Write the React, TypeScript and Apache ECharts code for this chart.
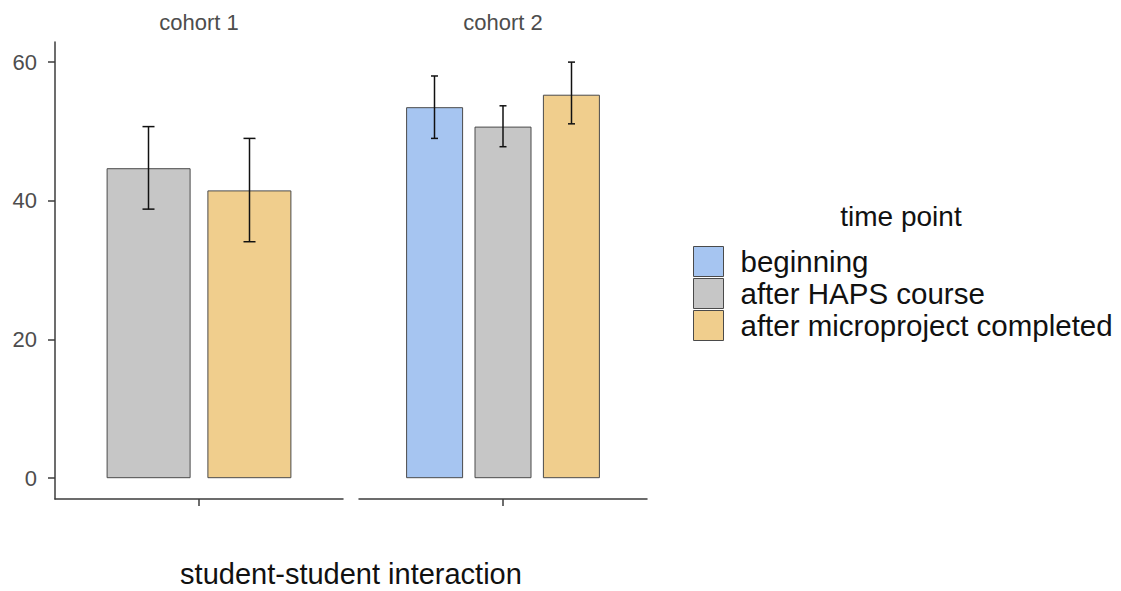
import React, { useEffect, useRef } from "react";
import * as echarts from "echarts";

// Facet panels and the single x category
const cohorts = ["cohort 1", "cohort 2"];
const category = ["student-student interaction"];
const timePoints = ["beginning", "after HAPS course", "after microproject completed"];
const colors = ["#A6C5F1", "#C6C6C6", "#F0CE8D"];
const yTicks = [0, 20, 40, 60];

// Cohort 1 (no "beginning" measurement)
const c1Points = ["after HAPS course", "after microproject completed"];
const c1Means = [44.7, 41.5];
const c1Low = [38.8, 34.1];
const c1High = [50.7, 49.0];

// Cohort 2
const c2Points = ["beginning", "after HAPS course", "after microproject completed"];
const c2Means = [53.5, 50.7, 55.3];
const c2Low = [49.0, 47.8, 51.1];
const c2High = [58.0, 53.7, 60.0];

const FONT = "'Liberation Sans', Arial, sans-serif";
const AXIS_COLOR = "#3d3d3d";
const Y_MIN = -3;
const Y_MAX = 62.9;

const colorOf = (name: string) => colors[timePoints.indexOf(name)];

function barSeries(points: string[], means: number[], gridIdx: number, barWidth: number) {
  return points.map((p) => ({
    type: "bar",
    name: p,
    xAxisIndex: gridIdx,
    yAxisIndex: gridIdx,
    barWidth,
    barGap: "20%",
    data: [means[points.indexOf(p)]],
    itemStyle: { color: colorOf(p), borderColor: "#4a4a4a", borderWidth: 1 },
  }));
}

function errorSeries(low: number[], high: number[], gridIdx: number, step: number, capHalf: number) {
  const n = low.length;
  return {
    type: "custom",
    xAxisIndex: gridIdx,
    yAxisIndex: gridIdx,
    encode: { x: 0, y: [1, 2] },
    data: low.map((l, i) => [0, l, high[i], i]),
    z: 10,
    renderItem: (_params: any, api: any) => {
      const slot = api.value(3);
      const lo = api.coord([0, api.value(1)]);
      const hi = api.coord([0, api.value(2)]);
      const x = lo[0] + (slot - (n - 1) / 2) * step;
      const style = { stroke: "#111", lineWidth: 1.5 };
      return {
        type: "group",
        children: [
          { type: "line", shape: { x1: x, y1: lo[1], x2: x, y2: hi[1] }, style },
          { type: "line", shape: { x1: x - capHalf, y1: lo[1], x2: x + capHalf, y2: lo[1] }, style },
          { type: "line", shape: { x1: x - capHalf, y1: hi[1], x2: x + capHalf, y2: hi[1] }, style },
        ],
      };
    },
  };
}

export default function App() {
  const ref = useRef<HTMLDivElement>(null);

  useEffect(() => {
    if (!ref.current) return;
    const chart = echarts.init(ref.current, undefined, { renderer: "svg" });

    const xAxisBase = {
      type: "category",
      data: category,
      axisLine: { show: true, onZero: false, lineStyle: { color: AXIS_COLOR, width: 1.5 } },
      axisTick: { show: true, alignWithLabel: true, length: 7, lineStyle: { color: AXIS_COLOR, width: 1.5 } },
      axisLabel: { show: false },
    };

    chart.setOption({
      animation: false,
      textStyle: { fontFamily: FONT },
      grid: [
        { left: 55, width: 288, top: 42, bottom: 92 },
        { left: 359, width: 288, top: 42, bottom: 92 },
      ],
      xAxis: [
        { ...xAxisBase, gridIndex: 0 },
        { ...xAxisBase, gridIndex: 1 },
      ],
      yAxis: [
        {
          type: "value",
          gridIndex: 0,
          min: Y_MIN,
          max: Y_MAX,
          splitLine: { show: false },
          axisLine: { show: true, lineStyle: { color: AXIS_COLOR, width: 1.5 } },
          axisTick: { show: true, length: 7, customValues: yTicks, lineStyle: { color: AXIS_COLOR, width: 1.5 } },
          axisLabel: {
            customValues: yTicks,
            fontSize: 22,
            color: "#4d4d4d",
            margin: 18,
            fontFamily: FONT,
          },
        },
        {
          type: "value",
          gridIndex: 1,
          min: Y_MIN,
          max: Y_MAX,
          show: false,
          splitLine: { show: false },
        },
      ],
      legend: {
        data: timePoints,
        orient: "vertical",
        left: 693,
        top: 246,
        padding: 0,
        itemWidth: 30,
        itemHeight: 30,
        itemGap: 1,
        icon: "rect",
        itemStyle: { borderColor: "#4a4a4a", borderWidth: 1 },
        textStyle: {
          fontSize: 29.5,
          color: "#111",
          fontFamily: FONT,
          lineHeight: 30,
          padding: [0, 0, 0, 12],
        },
        selectedMode: false,
      },
      graphic: [
        {
          type: "text",
          x: 199,
          y: 22,
          style: { text: cohorts[0], font: `22px ${FONT}`, fill: "#4d4d4d", textAlign: "center", textVerticalAlign: "middle" },
        },
        {
          type: "text",
          x: 503,
          y: 22,
          style: { text: cohorts[1], font: `22px ${FONT}`, fill: "#4d4d4d", textAlign: "center", textVerticalAlign: "middle" },
        },
        {
          type: "text",
          x: 351,
          y: 574,
          style: { text: category[0], font: `29px ${FONT}`, fill: "#111", textAlign: "center", textVerticalAlign: "middle" },
        },
        {
          type: "text",
          x: 901,
          y: 216,
          style: { text: "time point", font: `28px ${FONT}`, fill: "#111", textAlign: "center", textVerticalAlign: "middle" },
        },
      ],
      series: [
        ...barSeries(c1Points, c1Means, 0, 84),
        ...barSeries(c2Points, c2Means, 1, 57),
        errorSeries(c1Low, c1High, 0, 101, 6),
        errorSeries(c2Low, c2High, 1, 68.5, 3.5),
      ],
    });

    return () => chart.dispose();
  }, []);

  return (
    <div
      ref={ref}
      style={{ position: "fixed", left: 0, top: 0, width: 1121, height: 591, background: "#fff" }}
    />
  );
}
